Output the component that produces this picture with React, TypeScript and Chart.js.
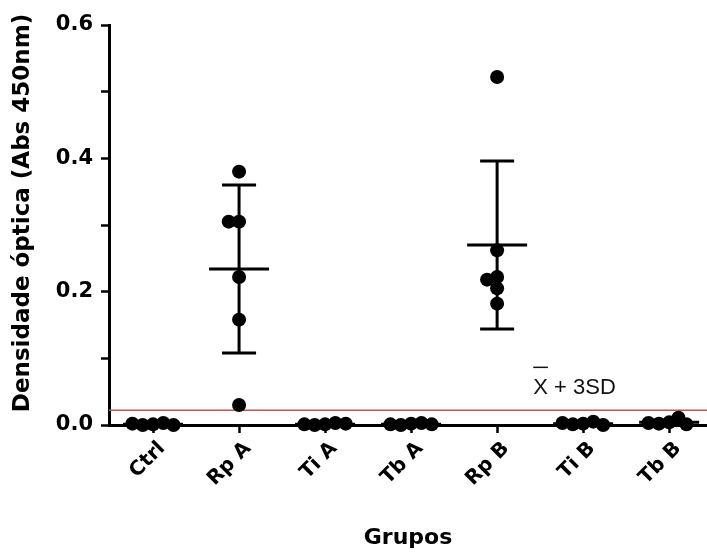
import { useEffect, useRef } from "react";
import { Chart, registerables } from "chart.js";

Chart.register(...registerables);

// ---- data ----
const categories = ["Ctrl", "Rp A", "Ti A", "Tb A", "Rp B", "Ti B", "Tb B"];
const ctrlValues = [0.001, 0.0, 0.003, 0.002, 0.0];
const rpAValues = [0.38, 0.305, 0.305, 0.222, 0.158, 0.03];
const tiAValues = [0.001, 0.0, 0.003, 0.001, 0.002];
const tbAValues = [0.002, 0.0, 0.003, 0.001, 0.001];
const rpBValues = [0.522, 0.262, 0.222, 0.218, 0.205, 0.182];
const tiBValues = [0.002, 0.001, 0.005, 0.0, 0.003];
const tbBValues = [0.004, 0.002, 0.011, 0.001, 0.003];
const groupValues = [ctrlValues, rpAValues, tiAValues, tbAValues, rpBValues, tiBValues, tbBValues];
const groupMeans = [0.001, 0.234, 0.001, 0.001, 0.27, 0.002, 0.004];
const groupSDs = [0.002, 0.126, 0.002, 0.002, 0.126, 0.003, 0.003];
const cutoffValue = 0.022;
const cutoffLabel = "X + 3SD";
const yMin = 0;
const yMax = 0.6;
const yStep = 0.1;
const xMin = -0.512;
const xMax = 6.44;

const yTitle = "   Densidade óptica (Abs 450nm)";
const xTitle = "Grupos";

const DOT_R = 7;
const CANVAS_W = 714;

function beeswarm(chart: any) {
  const xs = chart.scales.x;
  const ys = chart.scales.y;
  const pxPerX = Math.abs(xs.getPixelForValue(1) - xs.getPixelForValue(0));
  const D = 10.5;
  const pts: { x: number; y: number }[] = [];
  groupValues.forEach((vals, gi) => {
    const placed: { dx: number; py: number }[] = [];
    vals.forEach((v) => {
      const py = ys.getPixelForValue(v);
      const cands = [0];
      placed.forEach((p) => {
        const dy = Math.abs(p.py - py);
        if (dy < D) {
          const w = Math.sqrt(D * D - dy * dy);
          cands.push(p.dx - w, p.dx + w);
        }
      });
      cands.sort((a, b) => {
        const d = Math.abs(a) - Math.abs(b);
        if (Math.abs(d) > 0.5) return d;
        return a - b;
      });
      let chosen = 0;
      for (const c of cands) {
        const ok = placed.every((p) => {
          const dx = p.dx - c;
          const dy = p.py - py;
          return dx * dx + dy * dy >= D * D - 0.01;
        });
        if (ok) {
          chosen = c;
          break;
        }
      }
      placed.push({ dx: chosen, py });
      pts.push({ x: gi + chosen / pxPerX, y: v });
    });
  });
  return pts;
}

const errorBarPlugin = {
  id: "errorBars",
  beforeDatasetsDraw(chart: any) {
    const { ctx, scales } = chart;
    const x = scales.x;
    const y = scales.y;
    ctx.save();
    ctx.strokeStyle = "#000";
    ctx.lineWidth = 3;
    ctx.lineCap = "butt";
    groupMeans.forEach((m, i) => {
      const sd = groupSDs[i];
      const cx = x.getPixelForValue(i);
      const ym = y.getPixelForValue(m);
      const yt = y.getPixelForValue(m + sd);
      const yb = y.getPixelForValue(Math.max(m - sd, 0));
      ctx.beginPath();
      ctx.moveTo(cx, yt);
      ctx.lineTo(cx, yb);
      ctx.moveTo(cx - 17, yt);
      ctx.lineTo(cx + 17, yt);
      ctx.moveTo(cx - 17, yb);
      ctx.lineTo(cx + 17, yb);
      ctx.moveTo(cx - 30, ym);
      ctx.lineTo(cx + 30, ym);
      ctx.stroke();
    });
    ctx.restore();
  },
};

const cutoffLabelPlugin = {
  id: "cutoffLabel",
  afterDatasetsDraw(chart: any) {
    const { ctx, scales } = chart;
    const x = scales.x;
    const y = scales.y;
    const left = x.getPixelForValue(4.42);
    const base = y.getPixelForValue(cutoffValue) - 16;
    ctx.save();
    ctx.font = "22px 'Liberation Sans'";
    ctx.fillStyle = "#111";
    ctx.textBaseline = "alphabetic";
    ctx.textAlign = "left";
    ctx.fillText(cutoffLabel, left, base);
    const wX = ctx.measureText("X").width;
    ctx.strokeStyle = "#111";
    ctx.lineWidth = 1.5;
    ctx.beginPath();
    ctx.moveTo(left, base - 27);
    ctx.lineTo(left + wX, base - 27);
    ctx.stroke();
    ctx.restore();
  },
};

export default function App() {
  const ref = useRef<HTMLCanvasElement | null>(null);
  useEffect(() => {
    document.body.style.margin = "0";
    document.body.style.overflow = "hidden";
    const canvas = ref.current;
    if (!canvas) return;
    const chart = new Chart(canvas, {
      type: "scatter",
      data: {
        datasets: [
          {
            type: "line",
            data: [
              { x: xMin, y: cutoffValue },
              { x: xMax, y: cutoffValue },
            ],
            borderColor: "#bf5456",
            borderWidth: 1.5,
            pointRadius: 0,
            order: 2,
          } as any,
          {
            data: [],
            pointRadius: DOT_R,
            pointHoverRadius: DOT_R,
            pointBackgroundColor: "#000",
            pointBorderWidth: 0,
            backgroundColor: "#000",
            borderColor: "#000",
            clip: false,
            order: 1,
          } as any,
        ],
      },
      options: {
        animation: false,
        responsive: false,
        events: [],
        layout: { padding: { top: 25, right: 0, left: 0, bottom: 0 } },
        plugins: {
          legend: { display: false },
          tooltip: { enabled: false },
        },
        scales: {
          x: {
            type: "linear",
            min: xMin,
            max: xMax,
            afterBuildTicks: (s: any) => {
              s.ticks = categories.map((_, i) => ({ value: i }));
            },
            afterFit: (s: any) => {
              s.height = 129;
              s.paddingLeft = 0;
              s.paddingRight = 0;
            },
            border: { display: true, color: "#000", width: 3 },
            grid: {
              drawOnChartArea: false,
              drawTicks: true,
              tickLength: 8,
              tickWidth: 2.5,
              color: "#000",
            },
            ticks: {
              autoSkip: false,
              maxRotation: 45,
              minRotation: 45,
              padding: 4,
              labelOffset: 9,
              color: "#000",
              font: { family: "'DejaVu Sans'", weight: "bold", size: 20 },
              callback: (v: any) => categories[Math.round(v)] ?? "",
            },
            title: {
              display: true,
              text: xTitle,
              color: "#000",
              font: { family: "'DejaVu Sans'", weight: "bold", size: 22 },
              padding: { top: 0, bottom: 3 },
            },
          },
          y: {
            type: "linear",
            min: yMin,
            max: yMax,
            afterFit: (s: any) => {
              s.width = 109;
            },
            border: { display: true, color: "#000", width: 3 },
            grid: {
              drawOnChartArea: false,
              drawTicks: true,
              tickLength: 8,
              tickWidth: 2.5,
              color: "#000",
            },
            ticks: {
              stepSize: yStep,
              padding: 8,
              color: "#000",
              font: { family: "'DejaVu Sans'", weight: "bold", size: 21 },
              callback: (v: any) =>
                Math.round(Number(v) * 10) % 2 === 0 ? Number(v).toFixed(1) : "",
            },
            title: {
              display: true,
              text: yTitle,
              color: "#000",
              font: { family: "'DejaVu Sans'", weight: "bold", size: 23 },
              padding: { top: 9, bottom: 0 },
            },
          },
        },
      },
      plugins: [errorBarPlugin, cutoffLabelPlugin],
    });
    (chart.data.datasets[1] as any).data = beeswarm(chart);
    chart.update();
    return () => {
      chart.destroy();
    };
  }, []);
  return (
    <div
      style={{
        position: "absolute",
        left: 0,
        top: 0,
        width: 707,
        height: 554,
        overflow: "hidden",
        background: "#fff",
      }}
    >
      <canvas ref={ref} width={CANVAS_W} height={554} style={{ width: CANVAS_W, height: 554, display: "block" }} />
    </div>
  );
}
